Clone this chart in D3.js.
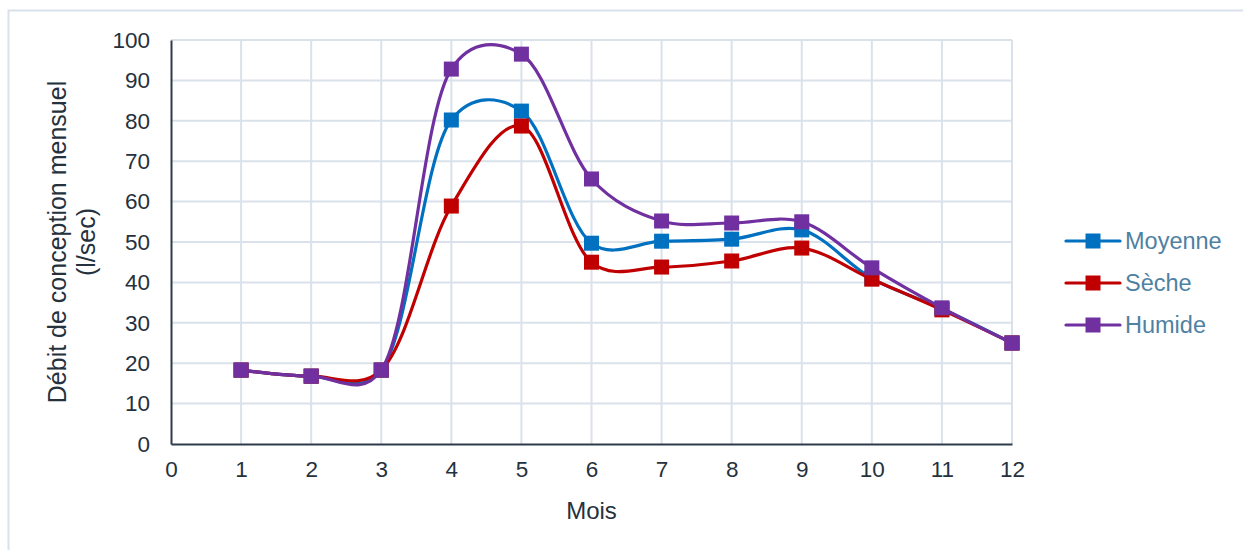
<!DOCTYPE html>
<html>
<head>
<meta charset="utf-8">
<script src="https://cdn.jsdelivr.net/npm/d3@7"></script>
<style>
  html, body { margin: 0; padding: 0; background: #fff; }
  svg { display: block; font-family: "Liberation Sans", Arial, sans-serif; }
</style>
</head>
<body>
<svg id="chart" width="1243" height="550"></svg>
<script>
// Monthly design flow (l/sec) for three hydrological scenarios
const months = [1, 2, 3, 4, 5, 6, 7, 8, 9, 10, 11, 12];
const moyenne = [18.3, 16.8, 18.3, 80.2, 82.4, 49.7, 50.2, 50.7, 53.0, 41.0, 33.5, 25.0];
const seche   = [18.3, 16.8, 18.3, 58.9, 78.7, 45.0, 43.8, 45.3, 48.5, 40.8, 33.2, 25.0];
const humide  = [18.3, 16.8, 18.3, 92.8, 96.5, 65.6, 55.2, 54.7, 55.0, 43.6, 33.7, 25.0];
const seriesNames = ["Moyenne", "Sèche", "Humide"];
const seriesColors = ["#0070C0", "#C00000", "#7030A0"];
const xTicks = [0, 1, 2, 3, 4, 5, 6, 7, 8, 9, 10, 11, 12];
const yTicks = [0, 10, 20, 30, 40, 50, 60, 70, 80, 90, 100];

const series = [moyenne, seche, humide].map((vals, i) => ({
  name: seriesNames[i],
  color: seriesColors[i],
  points: months.map((m, j) => ({ x: m, y: vals[j] }))
}));

const svg = d3.select("#chart");
const plotLeft = 171, plotRight = 1012, plotTop = 40, plotBottom = 444;

const x = d3.scaleLinear().domain([0, 12]).range([plotLeft, plotRight]);
const y = d3.scaleLinear().domain([0, 100]).range([plotBottom, plotTop]);

const gridColor = "#D9E2EB";
const axisColor = "#2E3B48";
const textColor = "#25313D";

// outer frame
svg.append("rect")
  .attr("x", 8.5).attr("y", 10.5)
  .attr("width", 1260).attr("height", 560)
  .attr("fill", "none").attr("stroke", gridColor).attr("stroke-width", 2);

// gridlines
svg.append("g").selectAll("line").data(yTicks.filter(d => d > 0)).join("line")
  .attr("x1", plotLeft).attr("x2", plotRight)
  .attr("y1", d => y(d)).attr("y2", d => y(d))
  .attr("stroke", gridColor).attr("stroke-width", 2);
svg.append("g").selectAll("line").data(xTicks.filter(d => d > 0)).join("line")
  .attr("x1", d => x(d)).attr("x2", d => x(d))
  .attr("y1", plotTop).attr("y2", plotBottom)
  .attr("stroke", gridColor).attr("stroke-width", 2);

// axes
const yAxis = svg.append("g")
  .attr("transform", `translate(${plotLeft},0)`)
  .call(d3.axisLeft(y).tickValues(yTicks).tickSize(0).tickPadding(21));
const xAxis = svg.append("g")
  .attr("transform", `translate(0,${plotBottom})`)
  .call(d3.axisBottom(x).tickValues(xTicks).tickSize(0).tickPadding(17));
[yAxis, xAxis].forEach(g => {
  g.select(".domain").attr("stroke", axisColor).attr("stroke-width", 2);
  g.selectAll("text")
    .attr("fill", textColor)
    .style("font-size", "22.5px")
    .style("font-family", "'Liberation Sans', Arial, sans-serif");
});

// axis titles
svg.append("text")
  .attr("x", (plotLeft + plotRight) / 2).attr("y", 519)
  .attr("text-anchor", "middle")
  .attr("fill", textColor).style("font-size", "24px")
  .text("Mois");
const yTitle = svg.append("text")
  .attr("transform", `translate(66,242) rotate(-90)`)
  .attr("text-anchor", "middle")
  .attr("fill", textColor).style("font-size", "25px");
yTitle.append("tspan").attr("x", 0).attr("dy", 0).text("Débit de conception mensuel");
yTitle.append("tspan").attr("x", 0).attr("dy", 29).text("(l/sec)");

// series lines and markers
const line = d3.line()
  .x(d => x(d.x)).y(d => y(d.y))
  .curve(d3.curveCatmullRom.alpha(0.25));

const gSeries = svg.append("g").selectAll("g").data(series).join("g");
gSeries.append("path")
  .attr("d", d => line(d.points))
  .attr("fill", "none")
  .attr("stroke", d => d.color)
  .attr("stroke-width", 3.2);
const ms = 15;
gSeries.each(function (s) {
  d3.select(this).selectAll("rect").data(s.points).join("rect")
    .attr("x", d => x(d.x) - ms / 2)
    .attr("y", d => y(d.y) - ms / 2)
    .attr("width", ms).attr("height", ms)
    .attr("fill", s.color);
});

// legend
const legend = svg.append("g").selectAll("g").data(series).join("g")
  .attr("transform", (d, i) => `translate(1066,${241 + i * 42})`);
legend.append("line")
  .attr("x1", 0).attr("x2", 54)
  .attr("stroke", d => d.color).attr("stroke-width", 3.2).attr("stroke-linecap", "round");
legend.append("rect")
  .attr("x", 27 - ms / 2).attr("y", -ms / 2)
  .attr("width", ms).attr("height", ms)
  .attr("fill", d => d.color);
legend.append("text")
  .attr("x", 59).attr("y", 8)
  .attr("fill", "#4F81A3").style("font-size", "23.5px")
  .text(d => d.name);
</script>
</body>
</html>
